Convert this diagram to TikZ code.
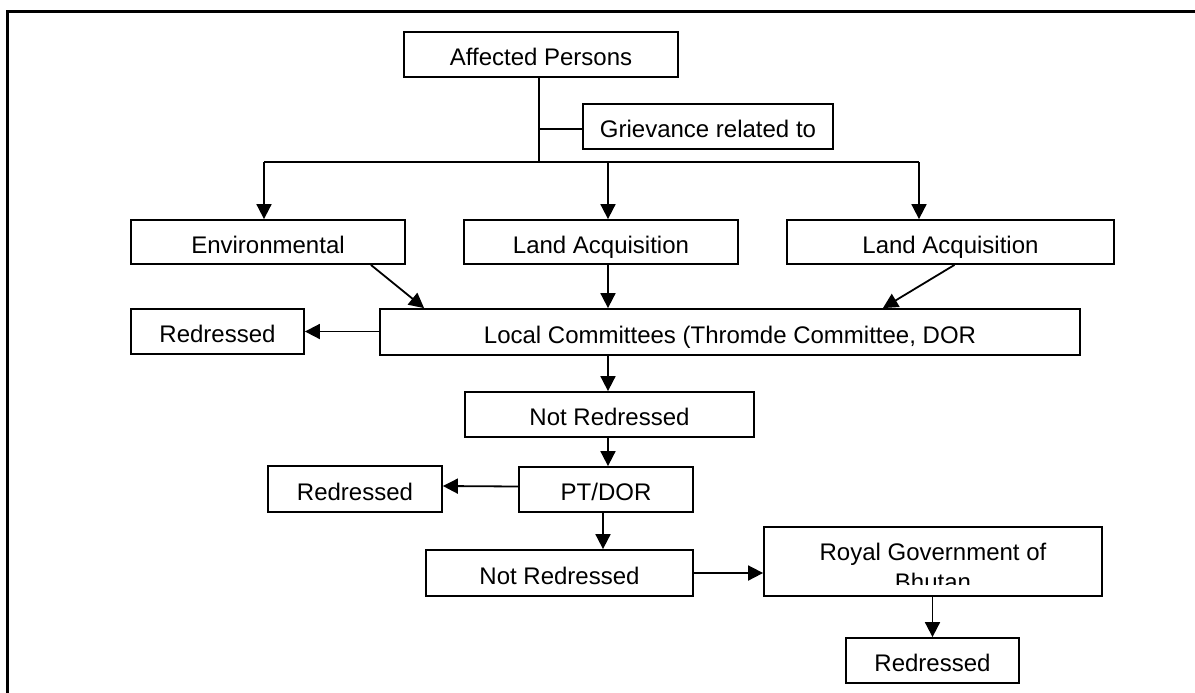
\documentclass[tikz,border=0pt]{standalone}
\usepackage{fontspec}
\setmainfont{Liberation Sans}
\usetikzlibrary{arrows.meta}
\tikzset{
  px/.style={x=0.5pt,y=-0.5pt},
  box/.style={draw, line width=0.9pt, inner sep=0pt, text height=11pt, text depth=0pt, font=\fontsize{12}{14}\selectfont},
  conn/.style={line width=0.9pt},
  arr/.style={conn, -{Triangle[length=7.5pt,width=7.5pt]}},
  frame/.style={line width=1.5pt, line cap=rect}
}
% box from pixel corners (x1,y1)-(x2,y2)
\newcommand\pxbox[6]{\node[box, minimum width={(#4-#2)*0.5pt}, minimum height={(#5-#3)*0.5pt}] (#1) at ({(#2+#4)/2},{(#3+#5)/2}) {#6};}
\begin{document}
\begin{tikzpicture}[px]
\useasboundingbox (0,0) rectangle (1195,692);
% outer frame (only top and left edges visible)
\draw[frame] (7,692) -- (7,11) -- (1195,11);

% boxes
\pxbox{ap}{404}{32}{678}{77}{Affected Persons}
\pxbox{gr}{583}{104}{833}{149}{Grievance related to}
\pxbox{env}{131}{220}{405}{264}{Environmental}
\pxbox{la1}{464}{220}{738}{264}{Land Acquisition}
\pxbox{la2}{787}{220}{1114}{264}{Land Acquisition}
\pxbox{lc}{380}{309}{1080}{355}{Local Committees (Thromde Committee, DOR}
\pxbox{r1}{131}{309}{304}{354}{Redressed}
\pxbox{nr1}{465}{392}{754}{437}{Not Redressed}
\pxbox{pt}{519}{467}{693}{512}{PT/DOR}
\pxbox{r2}{268}{466}{442}{512}{Redressed}
\pxbox{nr2}{426}{550}{693}{596}{Not Redressed}
\pxbox{rg}{764}{527}{1102}{596}{}
\pxbox{r3}{846}{638}{1019}{683}{Redressed}
\begin{scope}
  \clip (764,527) rectangle (1102,584);
  \node[anchor=base, align=center, inner sep=0pt, font=\fontsize{12}{15}\selectfont] (rgt) at (933,590) {Royal Government of\\Bhutan};
\end{scope}

% junction coordinates
\coordinate (jt) at (539,162);
\coordinate (jg) at (539,129);
\coordinate (jl) at (264,162);
\coordinate (jm) at (608,162);
\coordinate (jr) at (919,162);
\coordinate (xp) at (603,0);

% trunk and branches
\draw[conn] (ap.south -| jt) -- (jt);
\draw[conn] (jg) -- (gr.west |- jg);
\draw[conn] (jl) -- (jr);
\draw[arr] (jl) -- (jl |- env.north);
\draw[arr] (jm) -- (jm |- la1.north);
\draw[arr] (jr) -- (jr |- la2.north);

% into local committees
\draw[arr] ([xshift=-17.5pt]env.south east) -- ([xshift=22.5pt]lc.north west);
\draw[arr] (la1.south -| jm) -- (lc.north -| jm);
\draw[arr] ([xshift=2pt]la2.south) -- ([xshift=-99pt]lc.north east);

% downstream
\draw[arr] (lc.west |- r1.east) -- (r1.east);
\draw[arr] (lc.south -| jm) -- (nr1.north -| jm);
\draw[arr] (nr1.south -| jm) -- (pt.north -| jm);
\draw[arr] ([yshift=1.5pt]pt.west) -- ([yshift=1.5pt]r2.east);
\draw[arr] (pt.south -| xp) -- (nr2.north -| xp);
\draw[arr] (nr2.east) -- (rg.west |- nr2.east);
\draw[arr] (rg.south -| r3.north) -- (r3.north);
\end{tikzpicture}
\end{document}
